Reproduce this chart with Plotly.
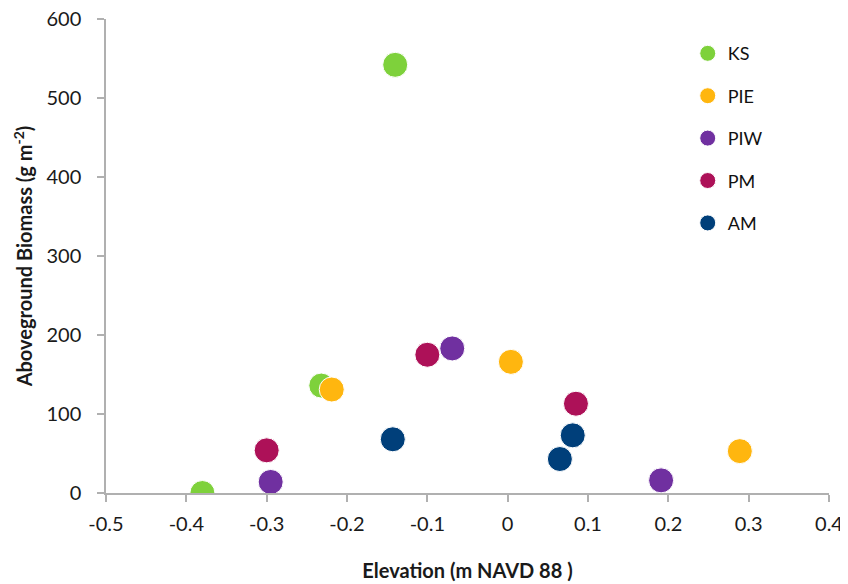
import plotly.graph_objects as go

sites = ["KS", "PIE", "PIW", "PM", "AM"]
colors = ["#7ED13B", "#FFB60F", "#7030A0", "#AD1158", "#003F7A"]

ks_x = [-0.38, -0.14, -0.232]
ks_y = [0, 542, 136]
pie_x = [-0.219, 0.004, 0.289]
pie_y = [131, 166, 53]
piw_x = [-0.295, -0.069, 0.191]
piw_y = [14, 183, 16]
pm_x = [-0.30, -0.10, 0.085]
pm_y = [54, 175, 113]
am_x = [-0.143, 0.065, 0.081]
am_y = [68, 43, 73]

x_ticks = [-0.5, -0.4, -0.3, -0.2, -0.1, 0, 0.1, 0.2, 0.3, 0.4]
x_ticktext = ["-0.5", "-0.4", "-0.3", "-0.2", "-0.1", "0", "0.1", "0.2", "0.3", "0.4"]
y_ticks = [0, 100, 200, 300, 400, 500, 600]

xs = [ks_x, pie_x, piw_x, pm_x, am_x]
ys = [ks_y, pie_y, piw_y, pm_y, am_y]

font = "Lato, 'Open Sans', sans-serif"

fig = go.Figure()
for i, name in enumerate(sites):
    fig.add_trace(go.Scatter(
        x=xs[i], y=ys[i], mode="markers", name=name, legendgroup=name,
        marker=dict(size=25, color=colors[i], line=dict(color="white", width=1)),
    ))

axis_common = dict(
    showgrid=False, zeroline=False, showline=True, linecolor="#B0B0B0", linewidth=1.5,
    ticks="outside", tickcolor="#B0B0B0", ticklen=7, tickwidth=1.5,
    tickfont=dict(family=font, size=20, color="#1a1a1a"), automargin=False,
    ticklabeloverflow="allow",
)

# the page body has an 8px margin, so the figure is sized to fit the remaining viewport
fig.update_layout(
    width=840, height=576,
    margin=dict(l=98, r=19, t=11, b=91),
    plot_bgcolor="white", paper_bgcolor="white",
    font=dict(family=font, color="#1a1a1a"),
    xaxis=dict(range=[-0.5, 0.4], tickvals=x_ticks, ticktext=x_ticktext, ticklabelstandoff=5,
               title=dict(text="<b>Elevation (m NAVD 88 )</b>", font=dict(family=font, size=20), standoff=30),
               **axis_common),
    yaxis=dict(range=[0, 600], tickvals=y_ticks, ticklabelstandoff=12,
               title=dict(text="<b>Aboveground Biomass (g m<sup>-2</sup>)</b>", font=dict(family=font, size=20), standoff=8),
               **axis_common),
    legend=dict(x=0.8046, y=0.966, xanchor="left", yanchor="top", bgcolor="rgba(0,0,0,0)",
                font=dict(family=font, size=18, color="#111"), tracegroupgap=16, itemsizing="trace"),
    showlegend=True,
)

fig.write_html("out.html")
